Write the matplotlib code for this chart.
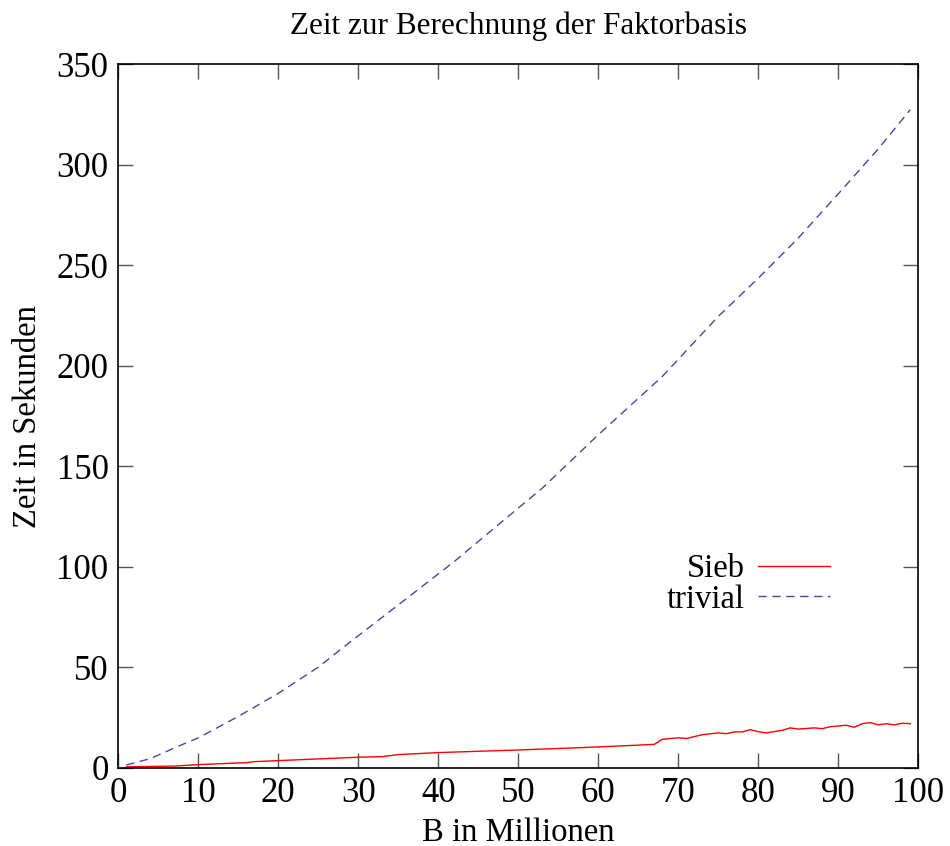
import matplotlib
matplotlib.use("Agg")
import matplotlib.pyplot as plt

plt.rcParams['font.family'] = ['Liberation Serif', 'DejaVu Serif']

# Sieb (red, solid)
sieb_x = [1, 7, 10, 16, 17, 20, 30, 33, 35, 40, 50, 60, 67, 68, 70, 71, 73, 75, 76, 77,
          78, 79, 80, 81, 83, 84, 85, 87, 88, 89, 91, 92, 93, 94, 95, 96, 97, 98, 99]
sieb_y = [0.4, 0.8, 1.5, 2.5, 3.0, 3.5, 5.2, 5.5, 6.5, 7.5, 8.8, 10.3, 11.6, 14.1, 14.9, 14.5,
          16.4, 17.3, 16.9, 17.8, 17.8, 18.9, 17.9, 17.3, 18.6, 19.8, 19.2, 19.8, 19.4, 20.4,
          21.1, 20.1, 21.9, 22.4, 21.3, 21.9, 21.3, 22.1, 21.9]

# trivial (blue, dashed)
triv_x = [1, 4, 8, 10, 15, 20, 25, 28, 35, 42, 50, 53, 60, 68, 75, 80, 85, 90, 95, 99]
triv_y = [1.3, 4.5, 11.5, 14.8, 25.5, 37, 50, 59.5, 81, 102.6, 129.2, 139.1, 165.7, 194.7,
          224.6, 243.6, 263.6, 285.6, 308, 327.5]

xticks = list(range(0, 101, 10))
yticks = list(range(0, 351, 50))

fig = plt.figure(figsize=(9.5, 8.46), dpi=100)
ax = fig.add_axes([0.1245, 0.0926, 0.8421, 0.8312])

ax.plot(sieb_x, sieb_y, color='#ff0000', lw=1.0, label='Sieb')
ax.plot(triv_x, triv_y, color='#4646a8', lw=1.0, dashes=(6, 4), label='trivial')

ax.set_xlim(0, 100)
ax.set_ylim(0, 350)
ax.set_xticks(xticks)
ax.set_yticks(yticks)
ax.tick_params(direction='in', length=11, width=1.0, color='#555555',
               top=True, right=True, labelsize=25, pad=7)
for s in ax.spines.values():
    s.set_linewidth(1.2)

ax.set_title('Zeit zur Berechnung der Faktorbasis', fontsize=22.5, pad=22)
ax.set_xlabel('B in Millionen', fontsize=23.5, labelpad=5)
ax.set_ylabel('Zeit in Sekunden', fontsize=23.5, labelpad=10)

ax.legend(loc='center right', bbox_to_anchor=(0.91, 0.261), frameon=False,
          markerfirst=False, fontsize=23.5, handlelength=2.2, handletextpad=0.4,
          labelspacing=0.0, borderpad=0.0)

fig.savefig('out.png', dpi=100)
